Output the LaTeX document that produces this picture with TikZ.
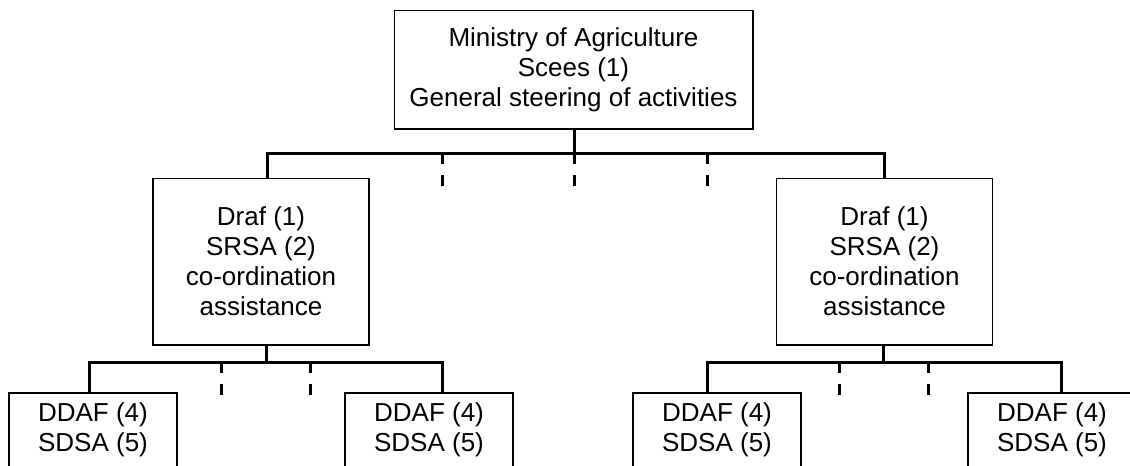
\documentclass[tikz,border=0pt]{standalone}
\usepackage{fontspec}
\setmainfont{Liberation Sans}
\usepackage{tkz-euclide}
\tikzset{
  unit/.style={draw,line width=1pt,inner sep=0pt,align=center,
    font=\fontsize{19.5}{22.5}\selectfont},
  link/.style={line width=2.25pt},
  stub/.style={line width=2.25pt,dash pattern=on 8.25pt off 8.25pt}
}

\begin{document}
\begin{tikzpicture}[x=.75pt,y=-.75pt]
\useasboundingbox (0,0) rectangle (1130,465);
\clip (0,0) rectangle (1130,465);

\node[unit,minimum width=269pt,minimum height=89pt] (Min) at (573.5,69.5)
  {Ministry of Agriculture\\Scees (1)\\General steering of activities};
\node[unit,minimum width=162pt,minimum height=125pt] (DrafL) at (261,261.5)
  {Draf (1)\\SRSA (2)\\co-ordination\\assistance};
\node[unit,minimum width=162pt,minimum height=125pt] (DrafR) at (884.5,261.5)
  {Draf (1)\\SRSA (2)\\co-ordination\\assistance};

\node[unit,minimum width=126pt,minimum height=55.5pt] (DdafA) at (93,430) {DDAF (4)\\SDSA (5)};
\node[unit,minimum width=126pt,minimum height=55.5pt] (DdafB) at (429,430) {DDAF (4)\\SDSA (5)};
\node[unit,minimum width=126pt,minimum height=55.5pt] (DdafC) at (717,430) {DDAF (4)\\SDSA (5)};
\node[unit,minimum width=126pt,minimum height=55.5pt] (DdafD) at (1052,430) {DDAF (4)\\SDSA (5)};

\tkzDefPoints{574/153/A,267/153/B,884/153/C,442/153/D1,707/153/D2}
\tkzDefPoints{266/362/E,89/362/F,442/362/G,221/362/H1,310/362/H2}
\tkzDefPoints{883/362/K,707/362/L,1061/362/M,839/362/N1,928/362/N2}

\draw[link] (Min.south -| A) -- (A);
\draw[link] (DrafL.north -| B) -- (B) -- (C) -- (DrafR.north -| C);

\draw[link] (DrafL.south -| E) -- (E);
\draw[link] (DdafA.north -| F) -- (F) -- (G) -- (DdafB.north -| G);

\draw[link] (DrafR.south -| K) -- (K);
\draw[link] (DdafC.north -| L) -- (L) -- (M) -- (DdafD.north -| M);

% open branches
\foreach \p in {A,D1,D2,H1,H2,N1,N2}
  \draw[stub] (\p) -- ++(0,33);

\end{tikzpicture}
\end{document}
